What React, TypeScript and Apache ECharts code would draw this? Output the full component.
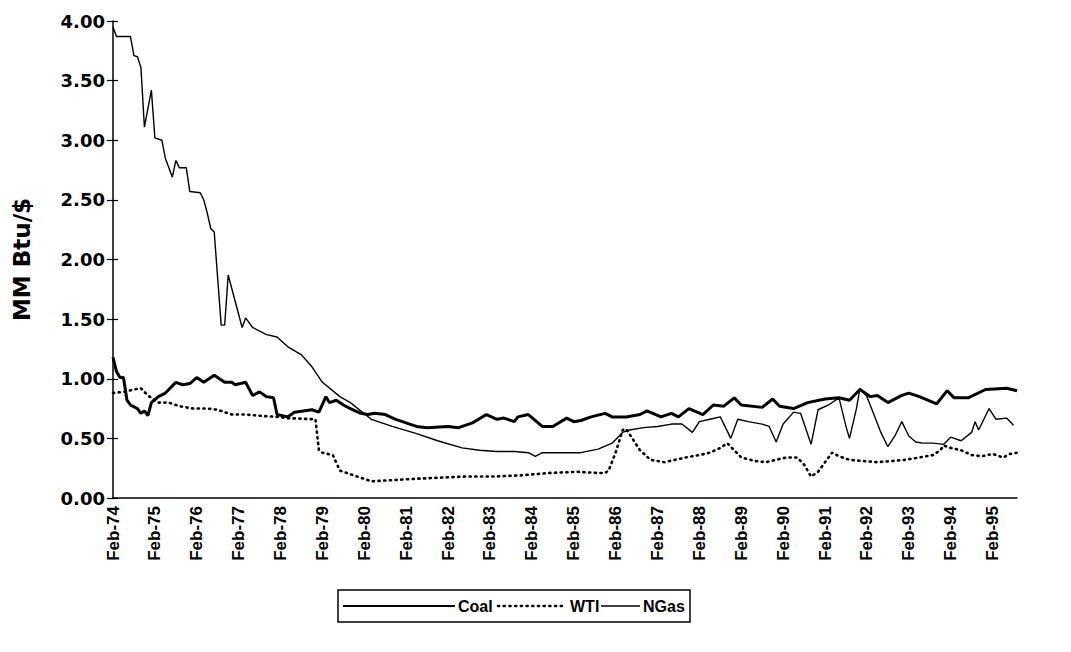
import React, { useEffect, useRef } from "react";
import * as echarts from "echarts";

// x values are months counted from Feb-74 (0 = Feb-74, 12 = Feb-75, ...)
const startYear = 74;
const tickYears = Array.from({ length: 22 }, (_, i) => i); // Feb-74 .. Feb-95 label slots

const coalMonths = [0, 1, 2, 3, 4, 5, 7, 8, 9, 10, 11, 13, 15, 18, 20, 22, 24, 26, 29, 32, 34, 35, 38, 40, 42, 44, 46, 47, 50, 52, 57, 59, 61, 62, 64, 66, 68, 71, 73, 75, 78, 81, 85, 87, 90, 96, 99, 103, 107, 110, 112, 115, 116, 119, 123, 126, 130, 132, 134, 137, 141, 143, 147, 151, 153, 157, 160, 162, 165, 169, 172, 175, 178, 180, 186, 189, 191, 195, 199, 204, 208, 211, 214, 217, 219, 222, 226, 228, 231, 236, 239, 241, 245, 250, 256, 259];
const coalValues = [1.18, 1.06, 1.01, 1.01, 0.82, 0.78, 0.75, 0.71, 0.73, 0.69, 0.80, 0.85, 0.88, 0.97, 0.95, 0.96, 1.01, 0.97, 1.03, 0.97, 0.97, 0.95, 0.97, 0.86, 0.89, 0.85, 0.84, 0.70, 0.68, 0.72, 0.74, 0.72, 0.85, 0.80, 0.82, 0.78, 0.75, 0.71, 0.70, 0.71, 0.70, 0.66, 0.62, 0.60, 0.59, 0.60, 0.59, 0.63, 0.70, 0.66, 0.67, 0.64, 0.68, 0.70, 0.60, 0.60, 0.67, 0.64, 0.65, 0.68, 0.71, 0.68, 0.68, 0.70, 0.73, 0.68, 0.71, 0.68, 0.75, 0.70, 0.78, 0.77, 0.84, 0.78, 0.76, 0.83, 0.77, 0.75, 0.80, 0.83, 0.84, 0.82, 0.91, 0.85, 0.86, 0.80, 0.86, 0.88, 0.85, 0.79, 0.90, 0.84, 0.84, 0.91, 0.92, 0.90];

const wtiMonths = [0, 3, 6, 8, 10, 13, 16, 19, 23, 27, 30, 34, 38, 42, 47, 50, 58, 59, 60, 63, 65, 68, 74, 80, 86, 93, 101, 109, 117, 125, 133, 139, 141, 142, 144, 146, 147, 149, 151, 154, 158, 161, 164, 168, 171, 174, 176, 178, 180, 184, 187, 190, 193, 196, 198, 200, 202, 206, 208, 211, 215, 219, 223, 227, 231, 235, 237, 238, 240, 243, 246, 249, 252, 255, 257, 259];
const wtiValues = [0.88, 0.89, 0.91, 0.92, 0.86, 0.80, 0.80, 0.77, 0.75, 0.75, 0.74, 0.70, 0.70, 0.69, 0.68, 0.67, 0.66, 0.40, 0.38, 0.36, 0.23, 0.20, 0.14, 0.15, 0.16, 0.17, 0.18, 0.18, 0.19, 0.21, 0.22, 0.21, 0.21, 0.23, 0.38, 0.57, 0.58, 0.49, 0.40, 0.32, 0.30, 0.32, 0.34, 0.36, 0.38, 0.42, 0.46, 0.40, 0.34, 0.31, 0.30, 0.32, 0.34, 0.34, 0.28, 0.18, 0.22, 0.38, 0.35, 0.32, 0.31, 0.30, 0.31, 0.32, 0.34, 0.36, 0.40, 0.44, 0.42, 0.40, 0.36, 0.35, 0.37, 0.34, 0.37, 0.38];

const ngasMonths = [0, 1, 5, 6, 7, 8, 9, 11, 12, 14, 15, 17, 18, 19, 21, 22, 25, 26, 27, 28, 29, 31, 32, 33, 37, 38, 40, 44, 47, 50, 54, 57, 60, 65, 68, 74, 80, 87, 93, 100, 105, 110, 115, 119, 121, 123, 128, 134, 139, 143, 146, 148, 152, 156, 160, 163, 166, 168, 171, 174, 177, 179, 182, 186, 188, 190, 192, 195, 197, 200, 202, 205, 208, 210, 211, 213, 214, 216, 218, 220, 222, 224, 226, 228, 230, 232, 235, 238, 240, 243, 246, 247, 248, 251, 253, 256, 258];
const ngasValues = [3.95, 3.87, 3.87, 3.71, 3.70, 3.61, 3.11, 3.42, 3.02, 3.00, 2.85, 2.69, 2.83, 2.77, 2.77, 2.57, 2.56, 2.50, 2.39, 2.26, 2.23, 1.45, 1.45, 1.87, 1.43, 1.51, 1.43, 1.37, 1.35, 1.27, 1.20, 1.10, 0.97, 0.85, 0.80, 0.66, 0.60, 0.54, 0.48, 0.42, 0.40, 0.39, 0.39, 0.38, 0.35, 0.38, 0.38, 0.38, 0.41, 0.46, 0.55, 0.57, 0.59, 0.60, 0.62, 0.62, 0.55, 0.64, 0.66, 0.68, 0.50, 0.66, 0.64, 0.62, 0.60, 0.47, 0.62, 0.72, 0.71, 0.45, 0.74, 0.78, 0.84, 0.60, 0.50, 0.75, 0.92, 0.85, 0.70, 0.55, 0.43, 0.52, 0.64, 0.52, 0.47, 0.46, 0.46, 0.45, 0.51, 0.48, 0.55, 0.64, 0.57, 0.75, 0.66, 0.67, 0.61];

const yTicks = [0, 0.5, 1, 1.5, 2, 2.5, 3, 3.5, 4];
const legendNames = ["Coal", "WTI", "NGas"];

const WIDE = "'DejaVu Sans', 'Liberation Sans', Arial, sans-serif";
const ARIAL = "'Liberation Sans', Arial, sans-serif";

const pairs = (xs: number[], ys: number[]) => xs.map((x, i) => [x, ys[i]]);

export default function App() {
  const ref = useRef<HTMLDivElement>(null);
  useEffect(() => {
    if (!ref.current) return;
    const chart = echarts.init(ref.current, undefined, { renderer: "svg" });
    const yMax = yTicks[yTicks.length - 1];
    const xMax = 259;
    const ly = 606;
    const legendFont = `bold 16px ${ARIAL}`;
    chart.setOption({
      animation: false,
      backgroundColor: "#ffffff",
      grid: { left: 113, right: 54, top: 21, bottom: 154 },
      xAxis: {
        type: "value",
        min: 0,
        max: xMax,
        interval: 12,
        axisLine: { show: true, lineStyle: { color: "#000", width: 1.5 } },
        axisTick: { show: false },
        splitLine: { show: false },
        axisLabel: {
          rotate: 90,
          margin: 8,
          showMaxLabel: false,
          color: "#000",
          fontFamily: ARIAL,
          fontWeight: "bold",
          fontSize: 17,
          formatter: (v: number) => {
            if (v % 12 !== 0) return "";
            const idx = v / 12;
            if (!tickYears.includes(idx)) return "";
            return "Feb-" + String(startYear + idx);
          },
        },
      },
      yAxis: [
        {
          type: "value",
          min: 0,
          max: yMax,
          interval: 0.5,
          name: "MM Btu/$",
          nameLocation: "middle",
          nameRotate: 90,
          nameGap: 80,
          nameTextStyle: { color: "#000", fontFamily: WIDE, fontWeight: "bold", fontSize: 23 },
          axisLine: { show: true, lineStyle: { color: "#000", width: 1.5 } },
          axisTick: { show: true, length: 6, lineStyle: { color: "#000", width: 1.2 } },
          splitLine: { show: false },
          axisLabel: {
            margin: 8,
            color: "#000",
            fontFamily: WIDE,
            fontWeight: "bold",
            fontSize: 18,
            formatter: (v: number) => v.toFixed(2),
          },
        },
        {
          type: "value",
          position: "left",
          min: 0,
          max: yMax,
          interval: 0.5,
          axisLine: { show: false },
          axisTick: { show: true, inside: true, length: 5, lineStyle: { color: "#000", width: 1.2 } },
          axisLabel: { show: false },
          splitLine: { show: false },
        },
      ],
      series: [
        {
          name: legendNames[0],
          type: "line",
          data: pairs(coalMonths, coalValues),
          showSymbol: false,
          lineStyle: { color: "#000", width: 3 },
          z: 3,
        },
        {
          name: legendNames[1],
          type: "line",
          data: pairs(wtiMonths, wtiValues),
          showSymbol: false,
          lineStyle: { color: "#000", width: 2.6, type: [1.2, 4.5], cap: "round" },
          z: 2,
        },
        {
          name: legendNames[2],
          type: "line",
          data: pairs(ngasMonths, ngasValues),
          showSymbol: false,
          lineStyle: { color: "#000", width: 1.4 },
          z: 4,
        },
      ],
      graphic: [
        {
          type: "rect",
          shape: { x: 338, y: 590, width: 352, height: 32 },
          style: { fill: "#fff", stroke: "#000", lineWidth: 1.5 },
        },
        { type: "line", shape: { x1: 343, y1: ly, x2: 455, y2: ly }, style: { stroke: "#000", lineWidth: 2 } },
        {
          type: "text",
          x: 458,
          y: ly,
          style: { text: legendNames[0], fill: "#000", font: legendFont, verticalAlign: "middle", align: "left" },
        },
        {
          type: "line",
          shape: { x1: 498, y1: ly, x2: 566, y2: ly },
          style: { stroke: "#000", lineWidth: 2.5, lineDash: [1.2, 4.5], lineCap: "round" },
        },
        {
          type: "text",
          x: 570,
          y: ly,
          style: { text: legendNames[1], fill: "#000", font: legendFont, verticalAlign: "middle", align: "left" },
        },
        { type: "line", shape: { x1: 601, y1: ly, x2: 640, y2: ly }, style: { stroke: "#000", lineWidth: 1.5 } },
        {
          type: "text",
          x: 643,
          y: ly,
          style: { text: legendNames[2], fill: "#000", font: legendFont, verticalAlign: "middle", align: "left" },
        },
      ],
    });
    return () => chart.dispose();
  }, []);
  return <div ref={ref} style={{ width: 1071, height: 652, position: "absolute", left: 0, top: 0 }} />;
}
